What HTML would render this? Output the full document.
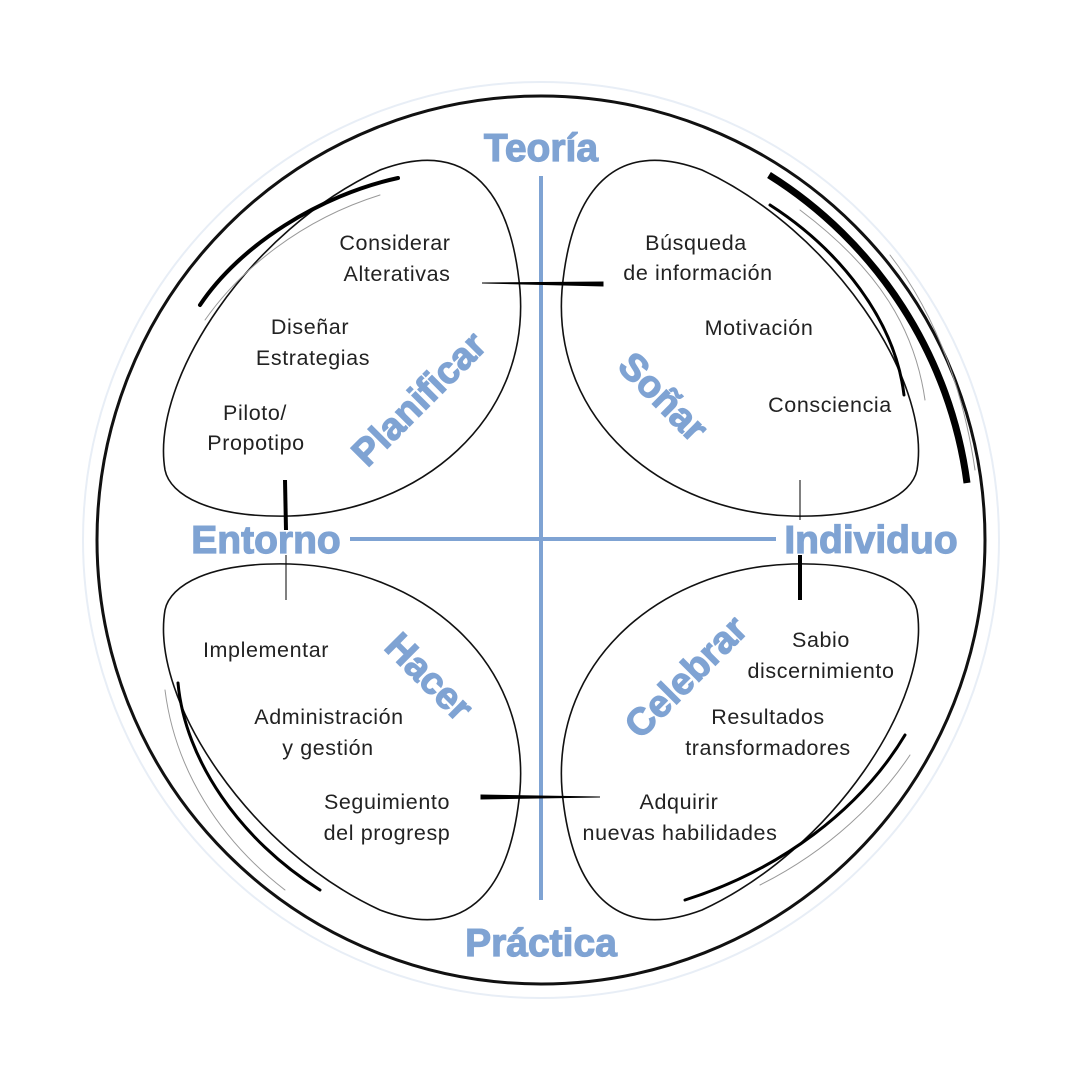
<!DOCTYPE html>
<html><head><meta charset="utf-8"><style>
html,body{margin:0;padding:0;background:#fff}
svg{display:block}
.t{font-family:"Liberation Sans",sans-serif;font-size:21.5px;letter-spacing:0.6px;fill:#222;text-anchor:middle}
.b{font-family:"Liberation Sans",sans-serif;font-weight:bold;fill:#7fa3d3;text-anchor:middle;stroke:#7fa3d3;stroke-width:1.2}
</style></head><body>
<svg width="1080" height="1080" viewBox="0 0 1080 1080">
<circle cx="541" cy="540" r="458" fill="none" stroke="#e8eef6" stroke-width="2"/>
<circle cx="541" cy="540" r="444" fill="none" stroke="#111" stroke-width="3"/>
<!-- axes -->
<line x1="541" y1="176" x2="541" y2="900" stroke="#7fa3d3" stroke-width="4"/>
<line x1="350" y1="539" x2="776" y2="539" stroke="#7fa3d3" stroke-width="4"/>
<!-- leaves -->
<g fill="none" stroke="#111" stroke-width="1.6">
<path id="lf" d="M165,470 C150,380 250,230 380,170 C460,140 510,180 520,290 C530,420 420,512 290,516 C210,518 170,495 165,470 Z"/>
<use href="#lf" transform="translate(1082,0) scale(-1,1)"/>
<use href="#lf" transform="translate(0,1080) scale(1,-1)"/>
<use href="#lf" transform="translate(1082,1080) scale(-1,-1)"/>
</g>
<!-- accent arcs -->
<g fill="none" stroke="#000" stroke-linecap="round">
<path d="M398,178 C320,195 240,245 200,305" stroke-width="4"/>
<path d="M380,195 C300,220 240,270 205,320" stroke-width="1" stroke="#999"/>
<path d="M770,205 C840,250 895,320 904,395" stroke-width="3"/>
<path d="M800,210 C880,270 915,330 925,400" stroke-width="1" stroke="#999"/>
<path d="M769,175 A430 430 0 0 1 967,483" stroke-width="7" stroke-linecap="butt"/>
<path d="M890,255 C940,320 965,400 975,470" stroke-width="1" stroke="#999"/>
<path d="M178,683 C185,760 240,840 320,890" stroke-width="3"/>
<path d="M165,690 C175,770 220,840 285,890" stroke-width="1" stroke="#999"/>
<path d="M685,900 C780,870 860,810 905,735" stroke-width="3"/>
<path d="M760,885 C830,850 880,800 910,755" stroke-width="1" stroke="#999"/>
</g>
<!-- connector ticks -->
<g stroke="#000">
<path d="M482,283 L603,282 L603,286 Z" fill="#000" stroke-width="1"/>
<path d="M481,795 L600,797 L481,799 Z" fill="#000" stroke-width="1"/>
<line x1="285" y1="480" x2="286" y2="530" stroke-width="4"/>
<line x1="286" y1="555" x2="286" y2="600" stroke-width="1"/>
<line x1="800" y1="480" x2="800" y2="520" stroke-width="1"/>
<line x1="800" y1="555" x2="800" y2="600" stroke-width="4"/>
</g>
<!-- blue labels -->
<text class="b" x="541" y="161" font-size="39">Teoría</text>
<text class="b" x="541" y="956" font-size="39">Práctica</text>
<text class="b" x="266" y="553" font-size="39">Entorno</text>
<text class="b" x="871" y="553" font-size="39">Individuo</text>
<text class="b" x="418" y="412" font-size="38" transform="rotate(-45 418 398)">Planificar</text>
<text class="b" x="664" y="410" font-size="38" transform="rotate(45 664 396)">Soñar</text>
<text class="b" x="430" y="690" font-size="38" transform="rotate(45 430 676)">Hacer</text>
<text class="b" x="685" y="690" font-size="38" transform="rotate(-45 685 676)">Celebrar</text>
<!-- body text -->
<g class="t">
<text x="395" y="250">Considerar</text><text x="397" y="281">Alterativas</text>
<text x="310" y="334">Diseñar</text><text x="313" y="365">Estrategias</text>
<text x="255" y="420">Piloto/</text><text x="256" y="450">Propotipo</text>
<text x="696" y="250">Búsqueda</text><text x="698" y="280">de información</text>
<text x="759" y="335">Motivación</text>
<text x="830" y="412">Consciencia</text>
<text x="266" y="657">Implementar</text>
<text x="329" y="724">Administración</text><text x="328" y="755">y gestión</text>
<text x="387" y="809">Seguimiento</text><text x="387" y="840">del progresp</text>
<text x="821" y="647">Sabio</text><text x="821" y="678">discernimiento</text>
<text x="768" y="724">Resultados</text><text x="768" y="755">transformadores</text>
<text x="679" y="809">Adquirir</text><text x="680" y="840">nuevas habilidades</text>
</g>
</svg>
</body></html>
